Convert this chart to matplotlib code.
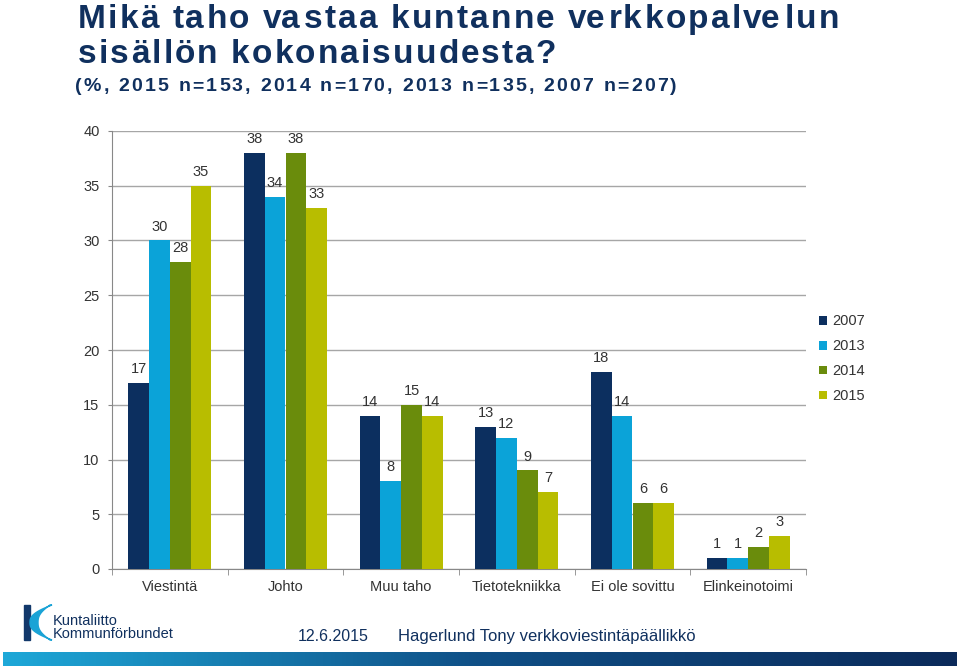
import matplotlib.pyplot as plt
import numpy as np
from matplotlib.patches import Polygon, Rectangle
from matplotlib.colors import LinearSegmentedColormap

plt.rcParams['font.family'] = ['Liberation Sans', 'DejaVu Sans']

categories = ['Viestintä', 'Johto', 'Muu taho', 'Tietotekniikka', 'Ei ole sovittu', 'Elinkeinotoimi']
years = ['2007', '2013', '2014', '2015']
v2007 = [17, 38, 14, 13, 18, 1]
v2013 = [30, 34, 8, 12, 14, 1]
v2014 = [28, 38, 15, 9, 6, 2]
v2015 = [35, 33, 14, 7, 6, 3]
series = [v2007, v2013, v2014, v2015]
colors = ['#0c2f5f', '#0ba3d8', '#6a8c0c', '#b8bd00']

W, H = 960, 666
fig = plt.figure(figsize=(9.6, 6.66), dpi=100)
renderer = fig.canvas.get_renderer()
navy = '#10305e'


def fx(px):
    return px / W


def fy(py):
    return 1 - py / H


def text_w(s, **kw):
    t = fig.text(0, 0, s, **kw)
    w = t.get_window_extent(renderer).width
    t.remove()
    return w


def spaced_text(x0, y0, s, track, **kw):
    # draw string char by char with extra letter spacing (pixels)
    ref = text_w('.', **kw)
    for i, ch in enumerate(s):
        if ch == ' ':
            continue
        off = text_w(s[:i] + '.', **kw) - ref if i else 0
        fig.text(fx(x0 + off + i * track), fy(y0), ch, va='baseline', **kw)


# chart area
ax = fig.add_axes([fx(112), fy(569), fx(806) - fx(112), fy(131) - fy(569)])
x = np.arange(len(categories))
bw = 0.18
for k, (vals, c) in enumerate(zip(series, colors)):
    pos = x + (k - 1.5) * bw
    ax.bar(pos, vals, width=bw, color=c, label=years[k], zorder=3)
    for p, v in zip(pos, vals):
        ax.annotate(str(v), (p, v), xytext=(0, 5), textcoords='offset points',
                    ha='center', va='bottom', fontsize=10.5, color='#333333')

ax.set_xlim(-0.5, len(categories) - 0.5)
ax.set_ylim(0, 40)
ax.set_yticks(range(0, 41, 5))
ax.yaxis.grid(True, color='#a6a6a6', linewidth=1, zorder=0)
ax.set_xticks(x)
ax.set_xticklabels(categories, fontsize=10.5, color='#333333')
ax.set_xticks(np.arange(-0.5, len(categories)), minor=True)
ax.tick_params(axis='x', which='major', length=0, pad=8)
ax.tick_params(axis='x', which='minor', length=4, color='#888888')
ax.tick_params(axis='y', length=3, color='#888888', labelsize=10.5, labelcolor='#333333', pad=6)
for s in ['top', 'right']:
    ax.spines[s].set_visible(False)
for s in ['left', 'bottom']:
    ax.spines[s].set_color('#888888')

leg = ax.legend(loc='center left', bbox_to_anchor=(1.0, 0.48), frameon=False,
                fontsize=10.5, handlelength=0.55, handleheight=0.55, handletextpad=0.35,
                labelspacing=0.75)
for t in leg.get_texts():
    t.set_color('#333333')

# title
title_kw = dict(fontsize=24, fontweight='bold', color=navy)
spaced_text(78, 28, 'Mikä taho vastaa kuntanne verkkopalvelun', 2.1, **title_kw)
spaced_text(78, 63, 'sisällön kokonaisuudesta?', 2.1, **title_kw)
spaced_text(75, 91, '(%, 2015 n=153, 2014 n=170, 2013 n=135, 2007 n=207)', 2.2,
            fontsize=14, fontweight='bold', color=navy)

# footer
fig.text(fx(298), fy(641), '12.6.2015', fontsize=11.5, color=navy, va='baseline')
fig.text(fx(398), fy(641), 'Hagerlund Tony verkkoviestintäpäällikkö', fontsize=12, color=navy, va='baseline')

# logo
lax = fig.add_axes([0, fy(650), fx(200), fy(600) - fy(650)])
lax.set_xlim(0, 200)
lax.set_ylim(50, 0)
lax.axis('off')
lax.add_patch(Rectangle((24, 5), 6, 35, color='#12386b'))
t = np.linspace(0, 1, 40)
outer_x = 30 + 22 * (1 - np.sin(np.pi * t)) ** 1.3
inner_x = 30 + 8 + 12 * (1 - np.sin(np.pi * t)) ** 1.3
ys = 5 + 35 * t
lax.add_patch(Polygon(np.column_stack([np.r_[outer_x, inner_x[::-1]], np.r_[ys, ys[::-1]]]),
                      color='#1aa3d6'))
lax.text(53, 25, 'Kuntaliitto', fontsize=10.5, color=navy, va='baseline')
lax.text(53, 38, 'Kommunförbundet', fontsize=10.5, color=navy, va='baseline')

# gradient bar
gax = fig.add_axes([fx(3), 0, fx(957) - fx(3), fy(652)])
grad = np.linspace(0, 1, 256).reshape(1, -1)
cmap = LinearSegmentedColormap.from_list('g', ['#1ea8d8', '#0f4f86', '#0b2a5a'])
gax.imshow(grad, aspect='auto', cmap=cmap)
gax.axis('off')

fig.savefig('out.png', dpi=100)
